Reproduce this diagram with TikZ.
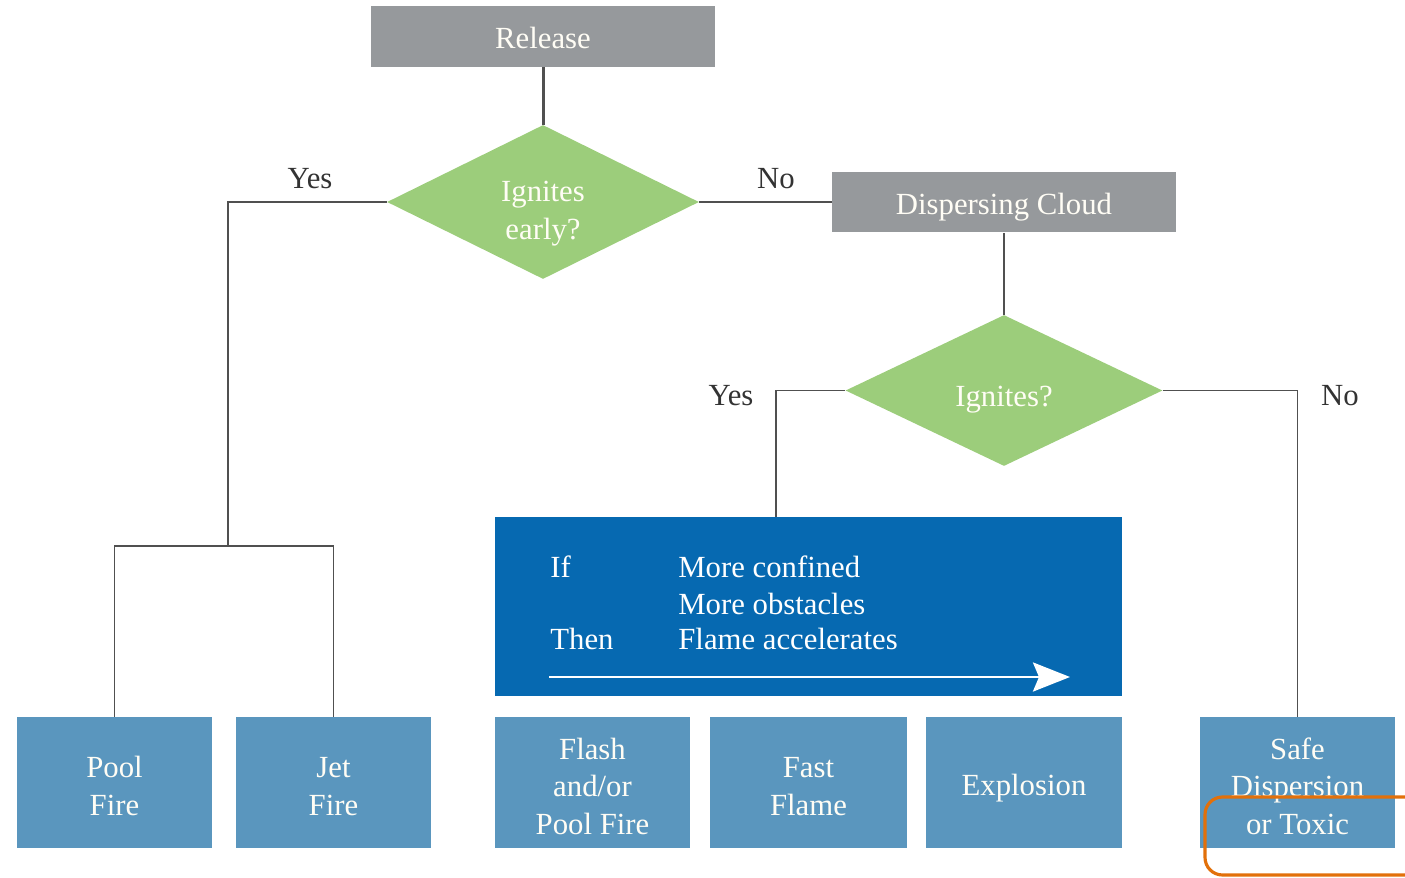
\documentclass[tikz,border=0pt]{standalone}
\usepackage{fontspec}
\setmainfont{Liberation Serif}
\usetikzlibrary{shapes.geometric,arrows.meta}
\definecolor{boxgray}{HTML}{96999C}
\definecolor{dgreen}{HTML}{9CCD7B}
\definecolor{bigblue}{HTML}{0669B1}
\definecolor{outblue}{HTML}{5A96BE}
\definecolor{lineg}{HTML}{505050}
\definecolor{hl}{HTML}{E2700A}
\definecolor{txtw}{HTML}{FFFDF5}
\definecolor{lbltxt}{HTML}{333333}
\newcommand\liftline[1]{\rule{0pt}{#1}}
\begin{document}
\begin{tikzpicture}[x=0.02cm,y=-0.02cm,
 every node/.style={font=\fontsize{17.5}{21.5}\selectfont},
 oneline/.style={text height=0.62cm,text depth=0.13cm},
 graybox/.style={fill=boxgray,text=txtw,minimum width=6.88cm,minimum height=1.22cm,inner sep=0,oneline},
 decision/.style={diamond,aspect=2,fill=dgreen,text=txtw,inner sep=0,align=center},
 outcome/.style={fill=outblue,text=txtw,minimum width=3.9cm,minimum height=2.62cm,inner sep=0,align=center},
 thickline/.style={draw=lineg,line width=1.7pt},
 thinline/.style={draw=lineg,line width=1.1pt},
 lbl/.style={text=lbltxt},
 btxt/.style={text=white,anchor=base west,inner sep=0}]
\useasboundingbox (0,0) rectangle (1405,878);

\node[graybox] (rel) at (543,36.5) {Release};
\node[decision,minimum width=6.24cm,minimum height=3.08cm] (d1) at (543,202) {\liftline{0.86cm}Ignites\\early?};
\node[graybox,text height=0.65cm] (disp) at (1004,202) {Dispersing Cloud};
\node[decision,minimum width=6.34cm,minimum height=3.02cm,text height=0.78cm,text depth=0.13cm] (d2) at (1004,390.5) {Ignites?};
\node[fill=bigblue,minimum width=12.54cm,minimum height=3.58cm,inner sep=0] (blue) at (808.5,606.5) {};

\node[outcome] (pool) at (114.5,782.5) {\liftline{0.58cm}Pool\\Fire};
\node[outcome] (jet) at (333.5,782.5) {\liftline{0.58cm}Jet\\Fire};
\node[outcome] (flash) at (592.5,782.5) {\liftline{0.58cm}Flash\\and/or\\Pool Fire};
\node[outcome,minimum width=3.94cm] (fast) at (808.5,782.5) {\liftline{0.58cm}Fast\\Flame};
\node[outcome,oneline,text height=0.65cm,minimum width=3.92cm] (expl) at (1024,782.5) {Explosion};
\node[outcome] (safe) at (1297.5,782.5) {\liftline{0.58cm}Safe\\Dispersion\\or Toxic};

\node[btxt] (tif) at (550,577) {If};
\node[btxt] (tthen) at (550,649) {Then};
\node[btxt] (t1) at (678,577) {More confined};
\node[btxt] (t2) at (678,614) {More obstacles};
\node[btxt] (t3) at (678,649) {Flame accelerates};
\coordinate (as) at (549,677);
\coordinate (ae) at (1070,677);
\draw[white,line width=1.7pt,-{Stealth[length=0.74cm,width=0.58cm,inset=0.12cm]}] (as) -- (ae);

\node[lbl] (ly1) at (310,179) {Yes};
\node[lbl] (ln1) at (776,179) {No};
\node[lbl] (ly2) at (731,396) {Yes};
\node[lbl] (ln2) at (1340,396) {No};

\draw[thickline] (rel.south) -- (d1.north);
\draw[thickline] (d1.east) -- (disp.west);
\draw[thinline] (disp.south) -- (d2.north);
\coordinate (yj) at (228,546);
\draw[thinline] (d1.west) -| (yj) -| (pool.north);
\draw[thinline] (yj) -| (jet.north);
\draw[thinline] (d2.west) -| ([xshift=-0.65cm]blue.north);
\draw[thinline] (d2.east) -| (safe.north);

\draw[hl,line width=1.8pt,rounded corners=0.35cm] (1205,797) rectangle (1430,875);
\end{tikzpicture}
\end{document}
